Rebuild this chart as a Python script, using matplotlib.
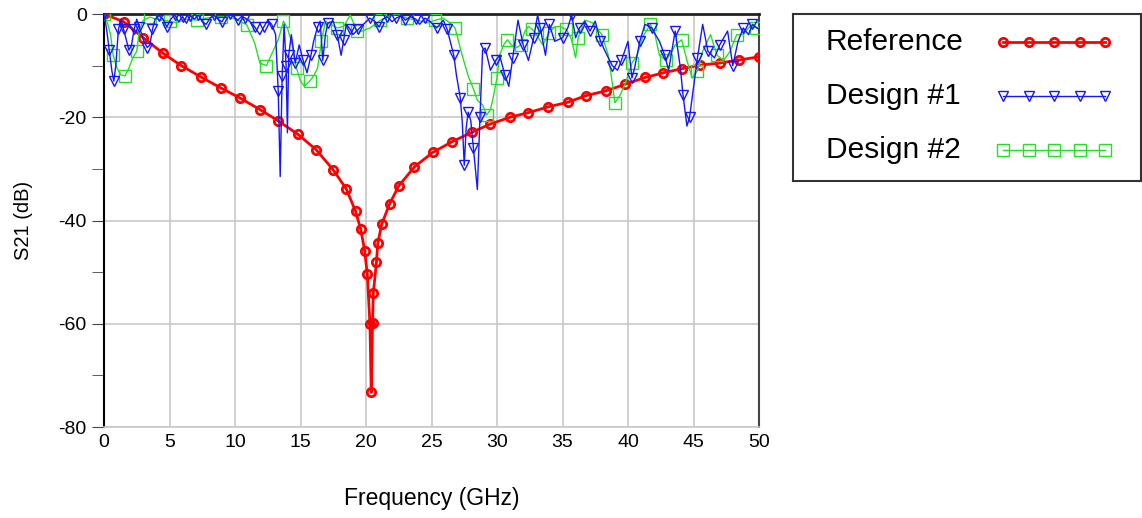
import matplotlib
matplotlib.use('Agg')
from matplotlib import pyplot as plt
from matplotlib.ticker import MultipleLocator
import numpy as np

plt.rcParams['font.family'] = ['Liberation Sans', 'DejaVu Sans']
plt.rcParams['axes.unicode_minus'] = False

# Reference notch filter response
ref_f = [0, 1.5, 3.0, 4.5, 5.9, 7.4, 8.9, 10.4, 11.9, 13.3, 14.8, 16.2, 17.5, 18.5,
         19.2, 19.6, 19.9, 20.1, 20.3, 20.4, 20.5, 20.56, 20.8, 20.9, 21.2, 21.8,
         22.5, 23.7, 25.1, 26.6, 28.1, 29.5, 31.0, 32.4, 33.9, 35.4, 36.8, 38.3,
         39.8, 41.3, 42.7, 44.1, 45.5, 47.0, 48.5, 50.0]
ref_db = [0, -1.5, -4.6, -7.6, -10.0, -12.2, -14.3, -16.3, -18.5, -20.7, -23.3, -26.3,
          -30.2, -33.9, -38.2, -41.7, -45.9, -50.4, -60.0, -73.3, -59.8, -54.0, -48.0,
          -44.4, -40.7, -36.8, -33.3, -29.6, -26.8, -24.7, -22.9, -21.3, -20.0, -19.1,
          -18.0, -17.1, -15.8, -14.9, -13.6, -12.3, -11.4, -10.6, -9.9, -9.5, -8.9, -8.3]

# Design #1
d1_f = [0.0, 0.2, 0.4, 0.6, 0.75, 0.9, 1.1, 1.3, 1.5, 1.7, 1.9, 2.1, 2.3, 2.5, 2.7,
        3.0, 3.3, 3.5, 3.7, 3.9, 4.2, 4.5, 4.8, 5.1, 5.4, 5.7, 6.0, 6.3, 6.6, 6.9,
        7.2, 7.5, 7.8, 8.1, 8.4, 8.7, 9.0, 9.3, 9.6, 9.9, 10.2, 10.5, 10.8, 11.1,
        11.5, 11.9, 12.2, 12.5, 12.8, 13.1, 13.3, 13.45, 13.6, 13.75, 13.9, 14.0,
        14.1, 14.3, 14.6, 14.9, 15.2, 15.5, 15.8, 16.0, 16.3, 16.5, 16.7, 16.9,
        17.1, 17.5, 17.8, 18.1, 18.3, 18.5, 18.8, 19.0, 19.4, 19.8, 20.3, 20.7,
        21.0, 21.3, 21.6, 22.0, 22.3, 22.7, 23.0, 23.4, 23.8, 24.1, 24.5, 24.9,
        25.4, 25.9, 26.2, 26.4, 26.7, 26.9, 27.2, 27.35, 27.5, 27.65, 27.8, 28.0,
        28.2, 28.5, 28.7, 28.9, 29.1, 29.5, 29.9, 30.2, 30.6, 30.9, 31.2, 31.6,
        32.0, 32.4, 32.8, 33.1, 33.3, 33.7, 34.0, 34.4, 35.0, 35.4, 35.7, 36.0,
        36.3, 36.7, 37.1, 37.5, 37.9, 38.4, 38.8, 39.2, 39.5, 40.0, 40.3, 40.5,
        40.9, 41.3, 41.8, 42.4, 42.8, 43.1, 43.6, 44.0, 44.2, 44.5, 44.7, 45.0,
        45.3, 45.7, 46.1, 46.6, 47.0, 47.6, 48.0, 48.4, 48.8, 49.2, 49.5, 50.0]
d1_db = [0, -3, -7, -11, -13, -10, -3, -1, -3, -5, -7, -6, -3, -1, -2.5,
         -5, -6.5, -6, -3, -1, -0.3, -1, -2.5, -1, -0.2, -1.5, -0.5, -1.8, -0.3, -1,
         -0.2, -1.5, -2, -0.8, -0.2, -1, -1.5, -0.3, 0, -0.5, -1.2, -0.5, -0.8, -1.4,
         -2.5, -4, -2.5, -1.2, -2, -4, -15, -31.5, -12, -2, -10, -23,
         -8, -4, -9.5, -6, -9, -11.4, -8, -5.3, -2.5, -1.4, -9, -4,
         -1.7, -1.4, -4, -8, -5, -2, -3, -4, -3, -2, -0.8, -1.5,
         -2.5, -1, -0.5, -1.5, -0.8, -0.3, -1.2, -0.5, -1, -2, -0.8, -1.5,
         -2.7, -1.2, -3, -5, -8, -11.8, -16.3, -21, -29.3, -22, -19, -20.7,
         -26, -34, -20, -7, -6.6, -10.9, -9, -8, -11.8, -14, -8.5, -1.2,
         -6, -9, -4.6, -0.2, -2.7, -8, -2, -5.3, -4.6, -2.7, -0.2, -4.6,
         -2.7, -1.4, -3.3, -1.4, -5.3, -8, -10, -10.9, -9, -5.3, -12.4, -10.5,
         -5.3, -2, -2.7, -5.3, -8, -10.9, -3.3, -10.5, -15.7, -21.7, -20, -14.3,
         -8.5, -2, -7.2, -8.5, -6, -3.3, -10, -5.3, -2.7, -4, -2, -3]

# Design #2
d2_f = [0, 0.3, 0.5, 0.7, 1.0, 1.3, 1.6, 1.9, 2.2, 2.5, 2.7, 3.0, 3.5, 4.0, 4.5,
        5.0, 5.6, 6.2, 7.1, 7.8, 8.5, 8.9, 9.6, 10.2, 10.9, 11.5, 11.9, 12.4, 12.9,
        13.3, 13.7, 14.0, 14.3, 14.7, 15.0, 15.3, 15.7, 16.0, 16.3, 16.6, 16.9,
        17.3, 17.8, 18.3, 18.8, 19.3, 19.7, 20.3, 21.1, 22.0, 22.4, 23.1, 23.9,
        24.7, 25.3, 25.9, 26.4, 26.8, 27.3, 27.8, 28.2, 28.5, 28.9, 29.2, 29.5,
        29.7, 30.0, 30.2, 30.5, 30.8, 31.1, 31.5, 31.8, 32.1, 32.4, 32.7, 33.0,
        33.5, 34.0, 34.4, 34.8, 35.3, 35.7, 36.0, 36.2, 36.7, 37.3, 38.0, 38.5,
        38.8, 39.0, 39.4, 39.8, 40.3, 40.7, 41.1, 41.7, 42.0, 42.4, 42.9, 43.3,
        43.6, 44.1, 44.5, 44.9, 45.3, 45.7, 46.3, 46.8, 47.3, 47.8, 48.3, 48.8,
        49.3, 49.8, 50.0]
d2_db = [0, -2, -4, -8, -10.5, -11.8, -12, -10.5, -8.5, -7.2, -3, -1.2, -0.6, -1, -1.2,
         -1.4, -1.7, -1, -1.2, -0.8, -0.5, -0.5, -0.6, -1.2, -2.1, -5.6, -9.5, -10, -7.2,
         -5, -1.4, -2.7, -5.3, -10.5, -13, -14, -13, -12, -10.5, -5.3, -1.4,
         -2, -2.7, -2.4, -0.2, -3.3, -3.3, -2.7, -1.2, -0.2, 0, -0.8, -1.2,
         -1.7, -1.2, -0.8, -1.7, -2.7, -7.6, -12, -14.5, -16.7, -17.6, -19.6, -18.5,
         -16.3, -12.4, -8, -6, -5, -6, -6.5, -6, -3.5, -2.4, -3, -4,
         -6, -3.6, -2.5, -2.4, -3, -5, -8.5, -4.6, -1.2, -1.7, -4, -8,
         -13.4, -17.2, -15.7, -13.4, -9.5, -8, -4.6, -2, -3.3, -8, -9, -7.5,
         -6, -5, -9, -12.4, -11, -7.2, -4, -8, -9, -7.2, -4, -4,
         -2.4, -2.7, -2.5]

labels = ['Reference', 'Design #1', 'Design #2']
styles = [dict(color='#ff0000', lw=2, marker='o', ms=6, mfc='none', mew=2),
          dict(color='#1515ff', lw=1, marker='v', ms=7, mfc='none', mew=1),
          dict(color='#22e022', lw=1, marker='s', ms=8, mfc='none', mew=1)]

fig = plt.figure(figsize=(11.42, 5.18), dpi=100)
ax = fig.add_axes([104/1142, 1-427/518, (759-104)/1142, (427-14)/518])

ax.plot(ref_f, ref_db, zorder=3, **styles[0])
ax.plot(d2_f, d2_db, markevery=3, zorder=4, **styles[2])
ax.plot(d1_f, d1_db, markevery=2, zorder=5, **styles[1])

ax.set_xlim(0, 50)
ax.set_ylim(-80, 0)
ax.xaxis.set_major_locator(MultipleLocator(5))
ax.yaxis.set_major_locator(MultipleLocator(20))
ax.yaxis.set_minor_locator(MultipleLocator(10))
ax.grid(True, which='major', color='#c8c8c8', lw=1.2)
ax.set_axisbelow(True)
ax.tick_params(axis='both', which='both', direction='out', labelsize=14, color='#444444')
ax.tick_params(axis='y', which='both', length=9)
ax.tick_params(axis='x', which='major', length=0, pad=5)

ax.spines['left'].set_color('#000000')
ax.spines['left'].set_linewidth(1.5)
ax.spines['top'].set_color('#222222')
ax.spines['top'].set_linewidth(2)
ax.spines['right'].set_color('#444444')
ax.spines['right'].set_linewidth(1.5)
ax.spines['bottom'].set_color('#c8c8c8')
ax.spines['bottom'].set_linewidth(1.2)

ax.set_xlabel('Frequency (GHz)', fontsize=16.5, labelpad=26)
ax.set_ylabel('S21 (dB)', fontsize=14.5, labelpad=18)

# legend box drawn in its own axes, labels left, line samples right
lax = fig.add_axes([793/1142, 1-181/518, 348/1142, 167/518])
lax.set_xlim(0, 348)
lax.set_ylim(167, 0)
lax.set_xticks([])
lax.set_yticks([])
for s in lax.spines.values():
    s.set_color('#333333')
    s.set_linewidth(1.5)
for i, (lab, st) in enumerate(zip(labels, styles)):
    yc = 28 + 54 * i
    lax.text(33, yc, lab, fontsize=21.5, va='center', ha='left')
    lax.plot(np.linspace(210, 312, 5), np.full(5, yc), **st)

plt.savefig('out.png', dpi=100)
